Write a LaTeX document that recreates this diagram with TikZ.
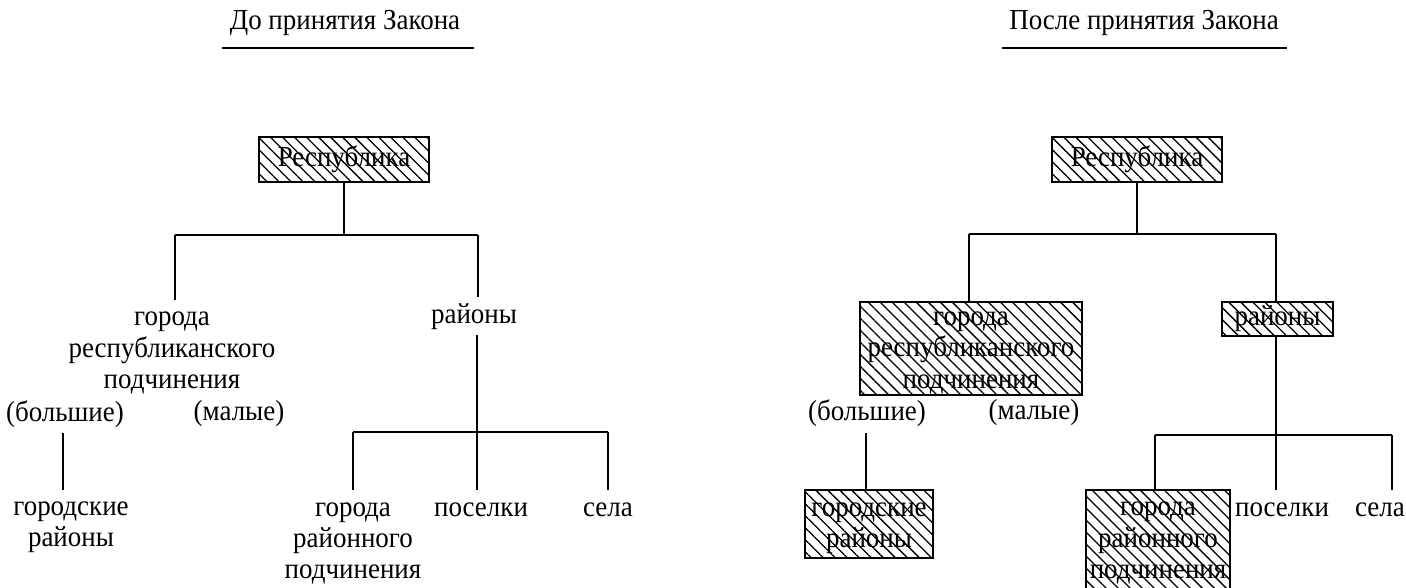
\documentclass[tikz,border=0pt]{standalone}
\usepackage{fontspec}
\setmainfont{Liberation Serif}[FakeStretch=0.93]
\usetikzlibrary{patterns.meta}
\begin{document}
\begin{tikzpicture}[x=0.5pt,y=-0.5pt,
  every node/.style={font=\fontsize{14.5}{15.6}\selectfont, inner sep=0pt},
  lbl/.style={align=center},
  hbox/.style={draw, line width=1.3pt,
    pattern={Lines[angle=-45,distance=4.25pt,line width=0.65pt]}},
  conn/.style={line width=1.3pt},
  uline/.style={line width=1.3pt}]
\useasboundingbox (0,0) rectangle (1406,588);
\clip (0,0) rectangle (1406,588);

% ---------------- Left: before the Law ----------------
\node[lbl] (LT) at (345,23) {До принятия Закона};
\coordinate (LTa) at (222,48);
\coordinate (LTb) at (474,48);
\draw[uline] (LTa) -- (LTb);

\node[hbox, minimum width=85pt, minimum height=22.5pt] (Lrep) at (344,159.5) {};
\node[lbl] (LrepT) at (Lrep.center) {Республика};
\node[lbl] (Lgr) at (172,353) {города\\республиканского\\подчинения};
\node[lbl] (Lbig) at (65,414) {(большие)};
\node[lbl] (Lsmall) at (239,414) {(малые)};
\node[lbl] (Lrn) at (474,317) {районы};
\node[lbl] (Lgrd) at (71,527) {городские\\районы};
\node[lbl] (Lgrr) at (353,543.5) {города\\районного\\подчинения};
\node[lbl] (Lpos) at (481,510) {поселки};
\node[lbl] (Lsel) at (608,510) {села};

\coordinate (Lb1L) at (175,235);
\coordinate (Lb1R) at (478,235);
\coordinate (LgrTop) at (175,300);
\coordinate (LrnTop) at (478,297);
\coordinate (LrnBot) at (477,335);
\coordinate (Lb2L) at (353,432);
\coordinate (Lb2M) at (477,432);
\coordinate (Lb2R) at (608,432);
\coordinate (LgrrTop) at (353,490);
\coordinate (LposTop) at (477,490);
\coordinate (LselTop) at (608,490);
\coordinate (LbigBot) at (63,433);
\coordinate (LgrdTop) at (63,490);

\draw[conn] (Lrep.south) -- (Lrep.south |- Lb1L);
\draw[conn] (Lb1L) -- (Lb1R);
\draw[conn] (Lb1L) -- (LgrTop);
\draw[conn] (Lb1R) -- (LrnTop);
\draw[conn] (LrnBot) -- (Lb2M);
\draw[conn] (Lb2L) -- (Lb2R);
\draw[conn] (Lb2L) -- (LgrrTop);
\draw[conn] (Lb2M) -- (LposTop);
\draw[conn] (Lb2R) -- (LselTop);
\draw[conn] (LbigBot) -- (LgrdTop);

% ---------------- Right: after the Law ----------------
\node[lbl] (RT) at (1144,23) {После принятия Закона};
\coordinate (RTa) at (1002,48);
\coordinate (RTb) at (1287,48);
\draw[uline] (RTa) -- (RTb);

\node[hbox, minimum width=85pt, minimum height=22.5pt] (Rrep) at (1137,159.5) {};
\node[lbl] (RrepT) at (Rrep.center) {Республика};
\node[hbox, minimum width=111pt, minimum height=46.5pt] (Rgr) at (971,348.5) {};
\node[lbl] (RgrT) at ([yshift=-2.2pt]Rgr.center) {города\\республиканского\\подчинения};
\node[lbl] (Rbig) at (867,413) {(большие)};
\node[lbl] (Rsmall) at (1034,413) {(малые)};
\node[hbox, minimum width=55.5pt, minimum height=17pt] (Rrn) at (1277.5,319) {};
\node[lbl] (RrnT) at (Rrn.center) {районы};
\node[hbox, minimum width=64pt, minimum height=34pt] (Rgrd) at (869,524) {};
\node[lbl] (RgrdT) at ([yshift=-2.2pt]Rgrd.center) {городские\\районы};
\node[hbox, minimum width=72pt, minimum height=50pt] (Rgrr) at (1158,540) {};
\node[lbl] (RgrrT) at ([yshift=-1.5pt]Rgrr.center) {города\\районного\\подчинения};
\node[lbl] (Rpos) at (1282,510) {поселки};
\node[lbl] (Rsel) at (1380,510) {села};

\coordinate (Rb1L) at (969,234);
\coordinate (Rb1R) at (1276,234);
\coordinate (Rb2L) at (1155,435);
\coordinate (Rb2M) at (1276,435);
\coordinate (Rb2R) at (1392,435);
\coordinate (RposTop) at (1276,490);
\coordinate (RselTop) at (1392,490);
\coordinate (RbigBot) at (866,433);

\draw[conn] (Rrep.south) -- (Rrep.south |- Rb1L);
\draw[conn] (Rb1L) -- (Rb1R);
\draw[conn] (Rb1L) -- (Rb1L |- Rgr.north);
\draw[conn] (Rb1R) -- (Rb1R |- Rrn.north);
\draw[conn] (Rb2M |- Rrn.south) -- (Rb2M);
\draw[conn] (Rb2L) -- (Rb2R);
\draw[conn] (Rb2L) -- (Rb2L |- Rgrr.north);
\draw[conn] (Rb2M) -- (RposTop);
\draw[conn] (Rb2R) -- (RselTop);
\draw[conn] (RbigBot) -- (RbigBot |- Rgrd.north);
\end{tikzpicture}
\end{document}
